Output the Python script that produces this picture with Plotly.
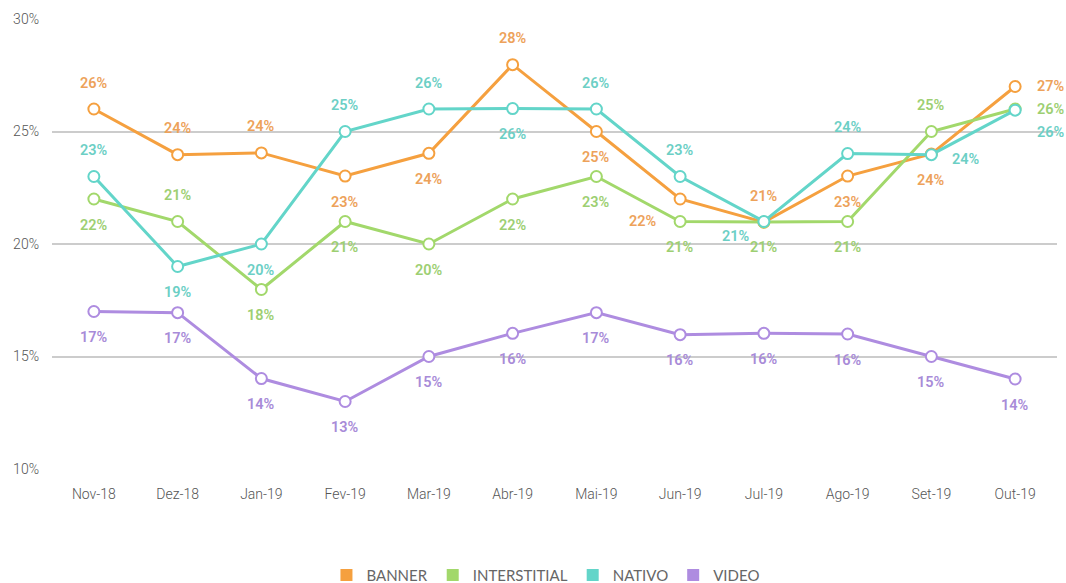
import plotly.graph_objects as go

months = ["Nov-18", "Dez-18", "Jan-19", "Fev-19", "Mar-19", "Abr-19",
          "Mai-19", "Jun-19", "Jul-19", "Ago-19", "Set-19", "Out-19"]

banner = [26.0, 23.97, 24.05, 23.02, 24.03, 27.97, 25.0, 22.0, 20.97, 23.02, 24.0, 27.0]
interstitial = [22.0, 21.0, 17.98, 21.0, 20.0, 22.0, 23.0, 21.0, 20.98, 21.0, 25.0, 26.0]
nativo = [23.0, 19.0, 20.0, 25.0, 26.0, 26.02, 26.0, 23.0, 21.0, 24.02, 23.97, 25.95]
video = [17.0, 16.95, 14.02, 13.0, 15.0, 16.03, 16.95, 15.97, 16.03, 16.0, 15.0, 14.0]

# label placement codes (style): t=above, b=below, r=right, etc.
pos_banner = ["t", "t", "t", "b", "b", "t", "b", "bl", "t", "b", "b", "r"]
pos_inter = ["b", "t", "b", "b", "b", "b", "b", "b", "b", "b", "t", "r"]
pos_nativo = ["t", "b", "b", "t", "t", "b", "t", "t", "bl2", "t", "r2", "rb"]
pos_video = ["b"] * 12

series = [
    ("BANNER", banner, pos_banner, "#F5A03F", "#EDA25A"),
    ("INTERSTITIAL", interstitial, pos_inter, "#A2D86B", "#9DCF72"),
    ("NATIVO", nativo, pos_nativo, "#63D5C9", "#6CCFC5"),
    ("VIDEO", video, pos_video, "#AE8CE0", "#A88BD8"),
]

shifts = {
    "t": (0, 26), "b": (0, -26), "r": (36, 0), "bl": (-37, -22),
    "bl2": (-28, -15), "r2": (35, -5), "rb": (36, -22),
}

fig = go.Figure()
annotations = []
for name, vals, poss, col, tcol in series:
    fig.add_trace(go.Scatter(
        x=months, y=vals, mode="lines+markers", name=name, showlegend=False,
        line=dict(color=col, width=3),
        marker=dict(size=11, color="white", line=dict(color=col, width=2)),
        hoverinfo="skip", cliponaxis=False,
    ))
    for m, v, p in zip(months, vals, poss):
        dx, dy = shifts[p]
        annotations.append(dict(
            x=m, y=v, xref="x", yref="y", text=f"{round(v)}%", showarrow=False,
            xshift=dx, yshift=dy,
            font=dict(family="Roboto", size=14.5, color=tcol, weight=600),
        ))

for name, vals, poss, col, tcol in series:
    fig.add_trace(go.Scatter(
        x=[None], y=[None], mode="markers", name=name, showlegend=True,
        marker=dict(symbol="square", size=12, color=col),
    ))

fig.update_layout(
    width=1066, height=583,
    margin=dict(l=52, r=9, t=19, b=114, autoexpand=False),
    paper_bgcolor="white", plot_bgcolor="white",
    font=dict(family="Roboto", color="#555555", size=14),
    annotations=annotations,
    legend=dict(orientation="h", x=0.491, xanchor="center", y=-0.236, yanchor="middle",
                font=dict(family="Lato", size=15, color="#666666"),
                itemsizing="constant"),
    xaxis=dict(type="category", range=[-0.5, len(months) - 0.5], autorange=False,
               showgrid=False, zeroline=False, showline=False,
               ticks="", ticklabelstandoff=15, automargin=False,
               tickfont=dict(family="Roboto", size=14, color="#555555", weight=300)),
    yaxis=dict(range=[10, 30], autorange=False, dtick=5, ticksuffix="%", showgrid=True,
               gridcolor="#cccccc", gridwidth=1.5, zeroline=False, showline=False,
               ticks="", ticklabelstandoff=12, automargin=False,
               tickfont=dict(family="Roboto", size=14, color="#555555", weight=300)),
)

fig.write_html("out.html", config={"displayModeBar": False},
               post_script="document.body.style.margin='0';")
